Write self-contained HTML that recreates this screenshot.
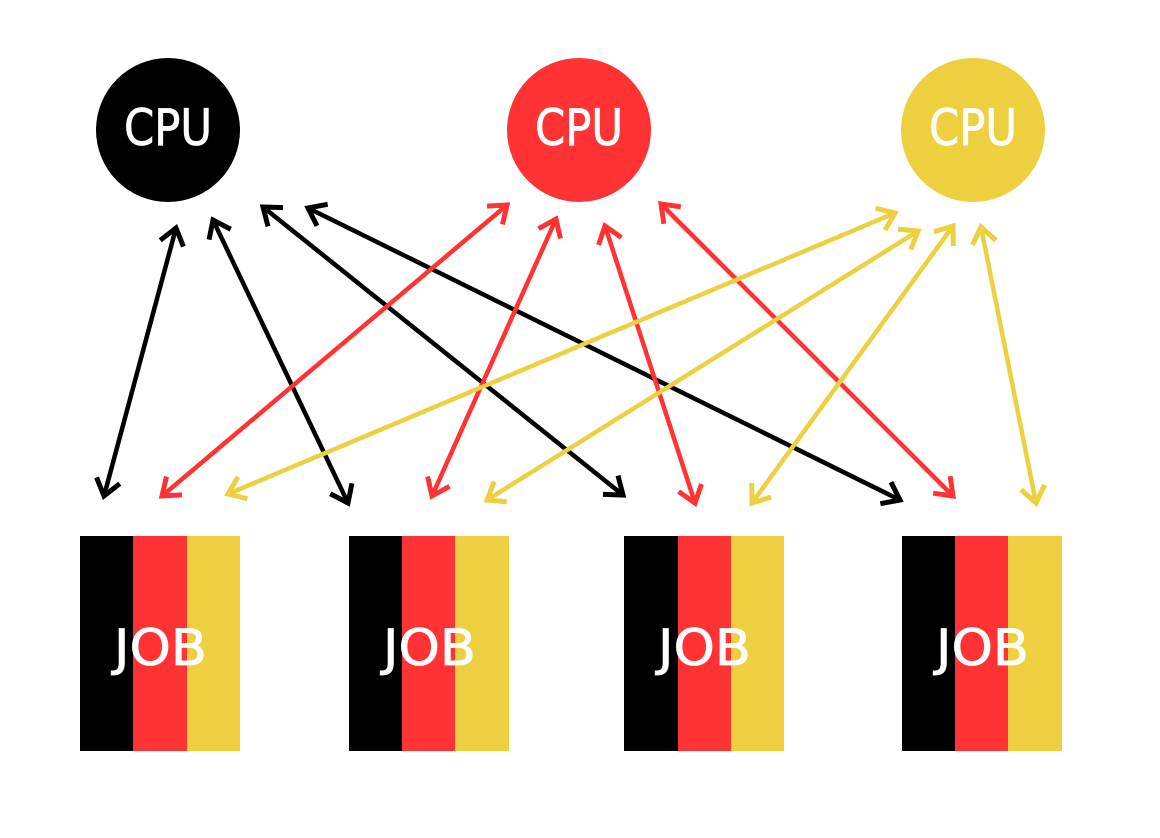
<!DOCTYPE html>
<html><head><meta charset="utf-8"><style>
html,body{margin:0;padding:0;background:#fff;}
svg{display:block;}
text{font-family:"DejaVu Sans","Liberation Sans",sans-serif;fill:#fff;stroke:#fff;stroke-width:0.8;}
</style></head><body>
<svg width="1160" height="838" viewBox="0 0 1160 838" xmlns="http://www.w3.org/2000/svg">
<defs>
<marker id="mkK" markerUnits="userSpaceOnUse" markerWidth="34" markerHeight="34" refX="20" refY="14" orient="auto-start-reverse" viewBox="0 0 34 28"><path d="M4,2 L20,14 L4,26" fill="none" stroke="#000" stroke-width="5"/></marker>
<marker id="mkR" markerUnits="userSpaceOnUse" markerWidth="34" markerHeight="34" refX="20" refY="14" orient="auto-start-reverse" viewBox="0 0 34 28"><path d="M4,2 L20,14 L4,26" fill="none" stroke="#ff3333" stroke-width="5"/></marker>
<marker id="mkY" markerUnits="userSpaceOnUse" markerWidth="34" markerHeight="34" refX="20" refY="14" orient="auto-start-reverse" viewBox="0 0 34 28"><path d="M4,2 L20,14 L4,26" fill="none" stroke="#eecf40" stroke-width="5"/></marker>
</defs>
<circle cx="168" cy="130" r="72" fill="#000"/>
<circle cx="579" cy="130" r="72" fill="#ff3333"/>
<circle cx="973" cy="130" r="72" fill="#eecf40"/>
<text x="124" y="145" font-size="50" textLength="88" lengthAdjust="spacingAndGlyphs">CPU</text>
<text x="535" y="145" font-size="50" textLength="88" lengthAdjust="spacingAndGlyphs">CPU</text>
<text x="929" y="145" font-size="50" textLength="88" lengthAdjust="spacingAndGlyphs">CPU</text>
<g stroke-width="4.5" fill="none">
<g stroke="#000" marker-start="url(#mkK)" marker-end="url(#mkK)">
<line x1="176" y1="228" x2="104" y2="496"/>
<line x1="213" y1="220" x2="348" y2="503"/>
<line x1="263" y1="207" x2="623" y2="495"/>
<line x1="308" y1="208" x2="900" y2="500"/>
</g>
<g stroke="#ff3333" marker-start="url(#mkR)" marker-end="url(#mkR)">
<line x1="507" y1="205" x2="162" y2="496"/>
<line x1="556" y1="219" x2="432" y2="496"/>
<line x1="605" y1="226" x2="695" y2="503"/>
<line x1="661" y1="204" x2="953" y2="496"/>
</g>
<g stroke="#eecf40" marker-start="url(#mkY)" marker-end="url(#mkY)">
<line x1="895" y1="213" x2="228" y2="494"/>
<line x1="918" y1="231" x2="487" y2="500"/>
<line x1="953" y1="226" x2="752" y2="503"/>
<line x1="981" y1="227" x2="1036" y2="503"/>
</g>
</g>
<g>
<rect x="80" y="536" width="54" height="215" fill="#000"/><rect x="133" y="536" width="54" height="215" fill="#ff3333"/><rect x="187" y="536" width="53" height="215" fill="#eecf40"/>
<rect x="349" y="536" width="54" height="215" fill="#000"/><rect x="402" y="536" width="54" height="215" fill="#ff3333"/><rect x="455" y="536" width="54" height="215" fill="#eecf40"/>
<rect x="624" y="536" width="54" height="215" fill="#000"/><rect x="678" y="536" width="54" height="215" fill="#ff3333"/><rect x="731" y="536" width="53" height="215" fill="#eecf40"/>
<rect x="902" y="536" width="54" height="215" fill="#000"/><rect x="955" y="536" width="54" height="215" fill="#ff3333"/><rect x="1008" y="536" width="54" height="215" fill="#eecf40"/>
</g>
<text x="114" y="665" font-size="50" textLength="93" lengthAdjust="spacingAndGlyphs">JOB</text>
<text x="383" y="665" font-size="50" textLength="93" lengthAdjust="spacingAndGlyphs">JOB</text>
<text x="658" y="665" font-size="50" textLength="93" lengthAdjust="spacingAndGlyphs">JOB</text>
<text x="936" y="665" font-size="50" textLength="93" lengthAdjust="spacingAndGlyphs">JOB</text>
</svg>
</body></html>
